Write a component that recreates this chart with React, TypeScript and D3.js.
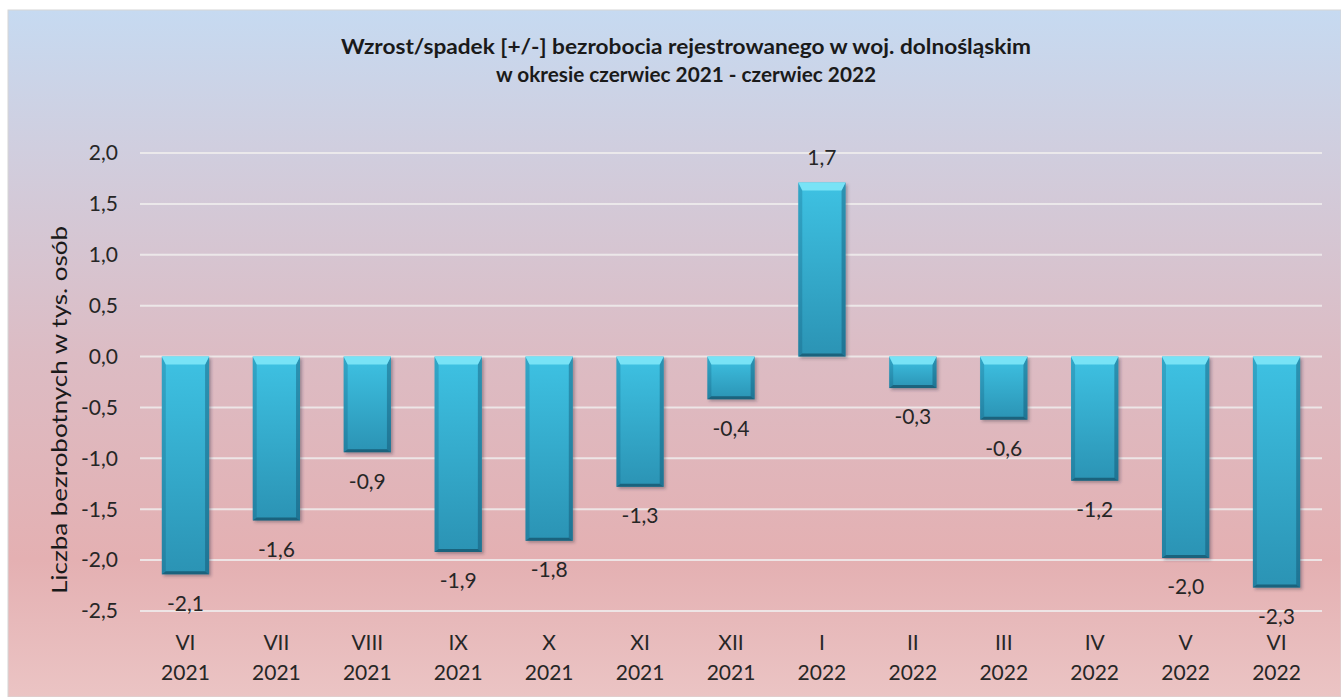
import React from "react";
import * as d3 from "d3";

const months = ["VI", "VII", "VIII", "IX", "X", "XI", "XII", "I", "II", "III", "IV", "V", "VI"];
const years = ["2021", "2021", "2021", "2021", "2021", "2021", "2021", "2022", "2022", "2022", "2022", "2022", "2022"];
const values = [-2.14, -1.61, -0.94, -1.92, -1.81, -1.28, -0.42, 1.71, -0.31, -0.62, -1.22, -1.98, -2.27];
const yTicks = [2.0, 1.5, 1.0, 0.5, 0.0, -0.5, -1.0, -1.5, -2.0, -2.5];
const titleLines = [
  "Wzrost/spadek [+/-] bezrobocia rejestrowanego w woj. dolnośląskim",
  "w okresie czerwiec 2021 -  czerwiec 2022",
];
const yTitle = "Liczba bezrobotnych w tys. osób";

const W = 1341;
const H = 697;
const FONT = "Lato, 'Open Sans', sans-serif";

export default function App() {
  const keys = months.map((m, i) => `${i}`);
  const x = d3.scaleBand<string>().domain(keys).range([140, 1322]).paddingInner(0.48).paddingOuter(0.24);
  const y = d3.scaleLinear().domain([-2.5, 2.0]).range([611, 153]);
  const fmt = (v: number) => d3.format(".1f")(v).replace(".", ",").replace("−", "-");
  const bw = x.bandwidth();
  const txt = "#262626";

  return (
    <svg width={W} height={H} style={{ position: "absolute", left: 0, top: 0, fontFamily: FONT }}>
      <defs>
        <linearGradient id="bg" x1="0" y1="0" x2="0" y2="1">
          <stop offset="0" stopColor="#c6daf1" />
          <stop offset="0.22" stopColor="#d1cddd" />
          <stop offset="0.5" stopColor="#dcbcc4" />
          <stop offset="0.8" stopColor="#e4b0b2" />
          <stop offset="1" stopColor="#ebc4c4" />
        </linearGradient>
        <linearGradient id="bar" x1="0" y1="0" x2="0" y2="1">
          <stop offset="0" stopColor="#3ec2e3" />
          <stop offset="1" stopColor="#2b93b4" />
        </linearGradient>
        <filter id="shadow" x="-20%" y="-20%" width="140%" height="140%">
          <feGaussianBlur stdDeviation="1.5" />
        </filter>
      </defs>
      <rect x={0} y={0} width={W} height={H} fill="#ffffff" />
      <rect x={8} y={10} width={W - 8} height={H - 10} fill="url(#bg)" stroke="#d6d6d6" strokeWidth={1} />

      {titleLines.map((t, i) => (
        <text
          key={i}
          x={686}
          y={54 + i * 28}
          textAnchor="middle"
          fontSize={20}
          fontWeight="bold"
          fill="#1a1a1a"
          textLength={i === 0 ? 690 : 380}
          lengthAdjust="spacingAndGlyphs"
        >
          {t}
        </text>
      ))}

      {yTicks.map((t) => (
        <g key={t}>
          <line x1={140} x2={1322} y1={y(t)} y2={y(t)} stroke="#f0eeee" strokeWidth={2} opacity={0.85} />
          <text x={118} y={y(t)} dy="0.35em" textAnchor="end" fontSize={21} fill={txt}>
            {fmt(t)}
          </text>
        </g>
      ))}

      <text
        transform={`translate(67,410) rotate(-90)`}
        textAnchor="middle"
        fontSize={21}
        fill="#1a1a1a"
        textLength={368}
        lengthAdjust="spacingAndGlyphs"
      >
        {yTitle}
      </text>

      {values.map((v, i) => {
        const x0 = x(keys[i]) as number;
        const x1 = x0 + bw;
        const y0 = Math.min(y(v), y(0));
        const y1 = Math.max(y(v), y(0));
        const bt = 8;
        const bs = 4;
        const bb = 3;
        return (
          <g key={i}>
            <rect x={x0 + 2} y={y0 + 2} width={bw} height={y1 - y0} fill="rgba(40,40,60,0.35)" filter="url(#shadow)" />
            <rect x={x0} y={y0} width={bw} height={y1 - y0} fill="url(#bar)" />
            <polygon
              points={`${x0},${y0} ${x0 + bs},${y0 + bt} ${x0 + bs},${y1 - bb} ${x0},${y1}`}
              fill="rgba(10,70,100,0.22)"
            />
            <polygon
              points={`${x1},${y0} ${x1 - bs},${y0 + bt} ${x1 - bs},${y1 - bb} ${x1},${y1}`}
              fill="rgba(10,60,90,0.35)"
            />
            <polygon
              points={`${x0},${y0} ${x1},${y0} ${x1 - bs},${y0 + bt} ${x0 + bs},${y0 + bt}`}
              fill="#78e3f6"
            />
            <polygon
              points={`${x0},${y1} ${x1},${y1} ${x1 - bs},${y1 - bb} ${x0 + bs},${y1 - bb}`}
              fill="rgba(10,50,70,0.5)"
            />
            <text
              x={x0 + bw / 2}
              y={v < 0 ? y(v) + 29 : y(v) - 25}
              dy="0.35em"
              textAnchor="middle"
              fontSize={21}
              fill={txt}
            >
              {fmt(v)}
            </text>
            <text x={x0 + bw / 2} y={643} dy="0.35em" textAnchor="middle" fontSize={21} fill={txt}>
              {months[i]}
            </text>
            <text x={x0 + bw / 2} y={673} dy="0.35em" textAnchor="middle" fontSize={21} fill={txt}>
              {years[i]}
            </text>
          </g>
        );
      })}
    </svg>
  );
}
